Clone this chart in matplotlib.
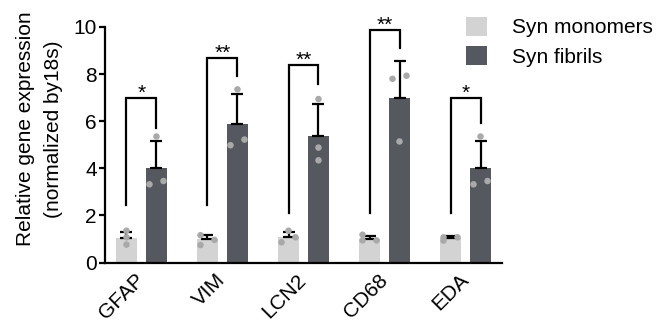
import numpy as np
import matplotlib
matplotlib.use("Agg")
import matplotlib.pyplot as plt
from matplotlib.patches import Patch

plt.rcParams['font.family'] = ['Liberation Sans', 'DejaVu Sans']

# ---------------- data ----------------
genes = ["GFAP", "VIM", "LCN2", "CD68", "EDA"]
series = ["Syn monomers", "Syn fibrils"]

mono_mean = [1.06, 0.99, 1.10, 1.01, 1.03]
mono_err = [0.25, 0.17, 0.21, 0.13, 0.08]
fib_mean = [4.03, 5.86, 5.36, 6.98, 4.03]
fib_err = [1.11, 1.28, 1.38, 1.56, 1.11]

mono_points = [[1.35, 1.07, 0.76], [1.16, 0.96, 0.74], [1.35, 1.07, 0.86],
               [1.18, 0.94, 0.94], [0.93, 1.07, 1.07]]
fib_points = [[5.35, 3.46, 3.32], [7.35, 5.22, 4.98], [6.94, 4.88, 4.34],
              [7.93, 7.80, 5.14], [5.35, 3.46, 3.32]]

sig_labels = ["*", "**", "**", "**", "*"]
bracket_top = [6.97, 8.68, 8.37, 9.87, 6.97]
bracket_left_end = [2.43, 2.43, 2.11, 2.11, 2.11]
bracket_right_end = [5.70, 7.90, 7.60, 9.11, 5.94]

# ---------------- style ----------------
c_mono = "#d3d3d3"
c_fib = "#56585f"
c_pt = "#a9a9a9"

fig = plt.figure(figsize=(6.7, 3.22), dpi=100)
ax = fig.add_axes([105 / 670, 1 - 262.5 / 322, 397 / 670, 235.5 / 322])

x = np.arange(len(genes))
off = 0.185
bw = 0.26
xm = x - off
xf = x + off

ax.bar(xm, mono_mean, bw, color=c_mono, zorder=2)
ax.bar(xf, fib_mean, bw, color=c_fib, zorder=2)

ekw = dict(fmt="none", ecolor="black", elinewidth=1.6, capsize=4.3, capthick=1.6, zorder=3)
ax.errorbar(xm, mono_mean, yerr=[np.zeros(len(genes)), mono_err], **ekw)
ax.errorbar(xf, fib_mean, yerr=[np.zeros(len(genes)), fib_err], **ekw)

# simple swarm: points that overlap vertically are spread left/right
px_per_y = 235.5 / 10.0
px_per_x = 397 / 4.9
dx = 7.0 / px_per_x


def swarm(vals):
    vals = np.asarray(vals, float)
    order = np.argsort(vals)
    offs = np.zeros(len(vals))
    clusters = []
    cur = [order[0]]
    for i in order[1:]:
        if (vals[i] - vals[cur[-1]]) * px_per_y < 6.0:
            cur.append(i)
        else:
            clusters.append(cur)
            cur = [i]
    clusters.append(cur)
    for cl in clusters:
        if len(cl) == 1:
            continue
        sgn = -1
        for i in cl:
            offs[i] = sgn * dx
            sgn = -sgn
    return offs


for i in range(len(genes)):
    for xc, pts in ((xm[i], mono_points[i]), (xf[i], fib_points[i])):
        o = swarm(pts)
        ax.scatter(xc + o, pts, s=22, color=c_pt, edgecolors="none", zorder=4, clip_on=False)

# significance brackets
for i in range(len(genes)):
    ax.plot([xm[i], xm[i], xf[i], xf[i]],
            [bracket_left_end[i], bracket_top[i], bracket_top[i], bracket_right_end[i]],
            color="black", lw=1.6, solid_joinstyle="miter", clip_on=False, zorder=3)
    ax.annotate(sig_labels[i], xy=(x[i], bracket_top[i]), xytext=(0, -0.5),
                textcoords="offset points", ha="center", va="baseline",
                fontsize=15, annotation_clip=False)

ax.set_xlim(-0.45, 4.45)
ax.set_ylim(0, 10)
ax.set_yticks([0, 2, 4, 6, 8, 10])
ax.set_xticks(x)
ax.set_xticklabels(genes, rotation=45, ha="right", va="center", rotation_mode="anchor")

for s in ("top", "right"):
    ax.spines[s].set_visible(False)
for s in ("left", "bottom"):
    ax.spines[s].set_linewidth(1.6)

ax.tick_params(axis="y", length=4, width=1.6, labelsize=15, pad=2)
ax.tick_params(axis="x", length=0, labelsize=15, pad=10.5)

ax.set_ylabel("Relative gene expression\n(normalized by18s)", fontsize=15,
              linespacing=1.6)
ax.yaxis.set_label_coords(-0.106, 0.567)

handles = [Patch(facecolor=c_mono, edgecolor="none"), Patch(facecolor=c_fib, edgecolor="none")]
fig.legend(handles, series, loc="upper left", bbox_to_anchor=(466 / 670, 1 - 17 / 322),
           frameon=False, fontsize=15, handlelength=1.0, handleheight=1.0,
           handletextpad=1.2, labelspacing=0.43, borderpad=0, borderaxespad=0)

fig.savefig("out.png", dpi=100)
